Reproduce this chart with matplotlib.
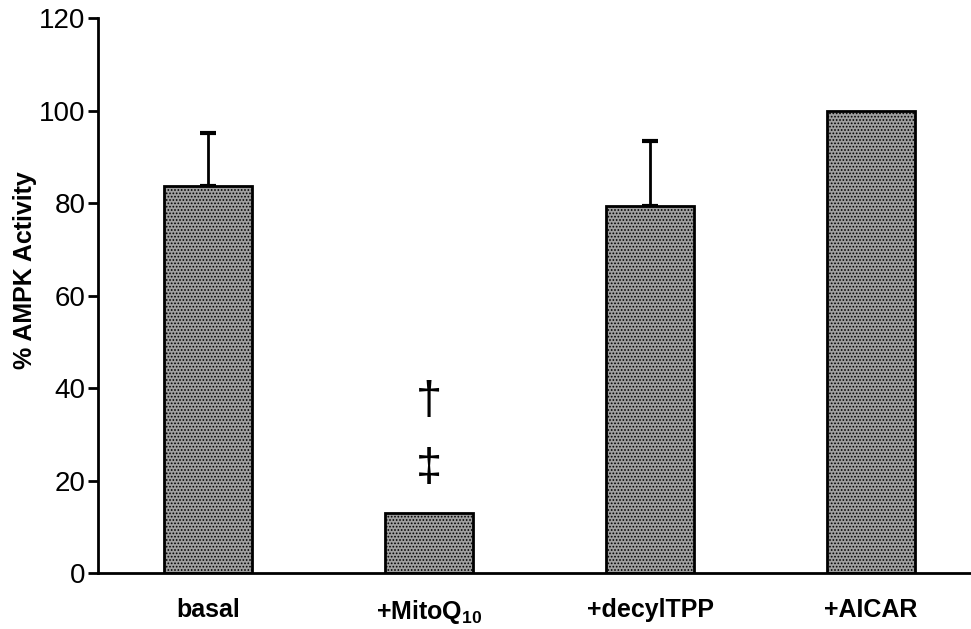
import matplotlib
matplotlib.use('Agg')
import matplotlib.pyplot as plt
import numpy as np

plt.rcParams['font.family'] = ['Liberation Sans', 'DejaVu Sans']
plt.rcParams['mathtext.fontset'] = 'custom'
plt.rcParams['mathtext.rm'] = 'Liberation Sans:bold'
plt.rcParams['mathtext.bf'] = 'Liberation Sans:bold'
plt.rcParams['hatch.color'] = '#4a4a4a'
plt.rcParams['hatch.linewidth'] = 0.8

# data
categories = ['basal', '+MitoQ$_{\\mathbf{10}}$', '+decylTPP', '+AICAR']
values = [83.7, 13.0, 79.4, 100.0]
errors = [11.4, 0.0, 14.0, 0.0]
yticks = [0, 20, 40, 60, 80, 100, 120]

fig = plt.figure(figsize=(9.71, 6.29), dpi=100)
ax = fig.add_axes([0.101, 0.089, 0.898, 0.882])

index = np.arange(len(categories))
ax.bar(index, values, 0.40, color='#a0a0a0', edgecolor='black',
       linewidth=2, hatch='.....', zorder=2)

# only the bars that have an SEM get an error bar (upper half only)
err = np.array(errors)
has_err = err > 0
ax.errorbar(index[has_err], np.array(values)[has_err],
            yerr=[np.zeros(has_err.sum()), err[has_err]], fmt='none',
            ecolor='black', elinewidth=2, capsize=6, capthick=3, zorder=1)

# significance markers over the MitoQ bar
ax.text(index[1], 37, '\u2020', ha='center', va='center', fontsize=34)
ax.text(index[1], 22.6, '\u2021', ha='center', va='center', fontsize=34)

ax.set_xlim(-0.498, 3.448)
ax.set_ylim(0, 120)
ax.set_yticks(yticks)
ax.tick_params(axis='y', labelsize=20, width=2, length=7, direction='out', pad=2)
ax.tick_params(axis='x', length=0, labelsize=18, pad=18)
ax.set_xticks(index)
ax.set_xticklabels(categories, fontweight='bold')
ax.set_ylabel('% AMPK Activity', fontsize=18, fontweight='bold')
ax.yaxis.set_label_coords(-0.070, 0.546)

for s in ['top', 'right']:
    ax.spines[s].set_visible(False)
for s in ['left', 'bottom']:
    ax.spines[s].set_linewidth(2)

fig.savefig('out.png', dpi=100)
